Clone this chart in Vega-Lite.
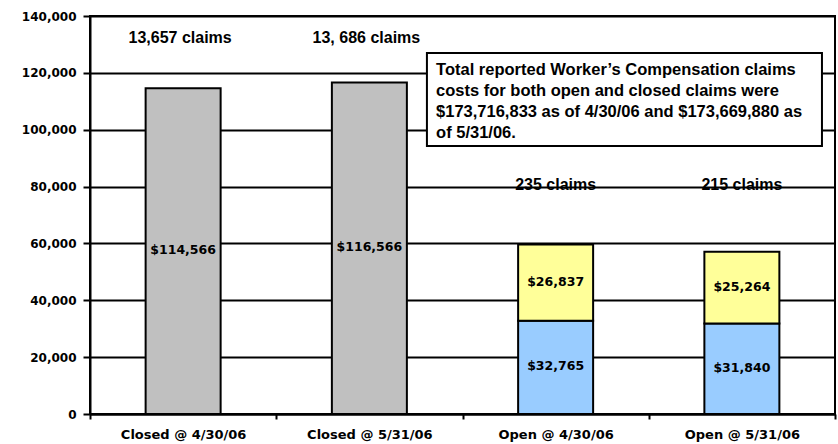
{
  "$schema": "https://vega.github.io/schema/vega-lite/v6.json",
  "width": 745,
  "height": 398,
  "autosize": {"type": "none"},
  "padding": {"left": 90, "top": 16, "right": 3, "bottom": 30},
  "background": "white",
  "config": {
    "view": {"stroke": "black", "strokeWidth": 2},
    "axis": {
      "domainColor": "black",
      "domainWidth": 2,
      "tickColor": "black",
      "tickWidth": 2,
      "labelColor": "black",
      "labelFont": "DejaVu Sans",
      "labelFontWeight": "bold",
      "title": null
    }
  },
  "datasets": {
    "costs": [
      {"category": "Closed @ 4/30/06", "part": "Closed", "value": 114566},
      {"category": "Closed @ 5/31/06", "part": "Closed", "value": 116566},
      {"category": "Open @ 4/30/06", "part": "Paid", "value": 32765},
      {"category": "Open @ 4/30/06", "part": "Reserve", "value": 26837},
      {"category": "Open @ 5/31/06", "part": "Paid", "value": 31840},
      {"category": "Open @ 5/31/06", "part": "Reserve", "value": 25264}
    ],
    "claims": [
      {"category": "Closed @ 4/30/06", "group": "Closed", "claims": "13,657 claims"},
      {"category": "Closed @ 5/31/06", "group": "Closed", "claims": "13, 686 claims"},
      {"category": "Open @ 4/30/06", "group": "Open", "claims": "235 claims"},
      {"category": "Open @ 5/31/06", "group": "Open", "claims": "215 claims"}
    ],
    "note": [
      {"text": [
        "Total reported Worker’s Compensation claims",
        "costs for both open and closed claims were",
        "$173,716,833 as of 4/30/06 and $173,669,880 as",
        "of 5/31/06."
      ]}
    ]
  },
  "layer": [
    {
      "layer": [
        {
          "data": {"name": "costs"},
          "transform": [
            {"stack": "value", "groupby": ["category"], "sort": [{"field": "part"}], "as": ["v0", "v1"]}
          ],
          "mark": {"type": "bar", "size": 75, "stroke": "black", "strokeWidth": 2},
          "encoding": {
            "x": {
              "field": "category",
              "type": "nominal",
              "sort": null,
              "scale": {"type": "band", "paddingInner": 0, "paddingOuter": 0},
              "axis": {
                "labelAngle": 0,
                "labelFontSize": 13,
                "labelPadding": 9,
                "tickSize": 5,
                "tickBand": "extent",
                "grid": false
              }
            },
            "y": {
              "field": "v1",
              "type": "quantitative",
              "scale": {"domain": [0, 140000], "nice": false},
              "axis": {
                "values": [0, 20000, 40000, 60000, 80000, 100000, 120000, 140000],
                "format": ",.0f",
                "grid": true,
                "gridColor": "black",
                "gridWidth": 2,
                "gridOpacity": 1,
                "tickSize": 7,
                "labelFontSize": 12,
                "labelPadding": 7
              }
            },
            "y2": {"field": "v0"},
            "color": {
              "field": "part",
              "type": "nominal",
              "scale": {"domain": ["Closed", "Paid", "Reserve"], "range": ["#C0C0C0", "#99CCFF", "#FFFF99"]},
              "legend": null
            }
          }
        },
        {
          "data": {"name": "costs"},
          "transform": [
            {"stack": "value", "groupby": ["category"], "sort": [{"field": "part"}], "as": ["v0", "v1"]},
            {"calculate": "(datum.v0 + datum.v1) / 2", "as": "mid"}
          ],
          "mark": {"type": "text", "font": "DejaVu Sans", "fontWeight": "bold", "fontSize": 12.5, "color": "black", "baseline": "middle", "dy": -1},
          "encoding": {
            "x": {"field": "category", "type": "nominal", "sort": null},
            "y": {"field": "mid", "type": "quantitative"},
            "text": {"field": "value", "type": "quantitative", "format": "$,.0f"}
          }
        },
        {
          "data": {"name": "claims"},
          "transform": [{"filter": "datum.group === 'Closed'"}],
          "mark": {"type": "text", "font": "Liberation Sans", "fontWeight": "bold", "fontSize": 16, "color": "black", "baseline": "middle", "dx": -3},
          "encoding": {
            "x": {"field": "category", "type": "nominal", "sort": null},
            "y": {"datum": 132200, "type": "quantitative"},
            "text": {"field": "claims"}
          }
        },
        {
          "data": {"name": "claims"},
          "transform": [{"filter": "datum.group === 'Open'"}],
          "mark": {"type": "text", "font": "Liberation Sans", "fontWeight": "bold", "fontSize": 16, "color": "black", "baseline": "middle"},
          "encoding": {
            "x": {"field": "category", "type": "nominal", "sort": null},
            "y": {"datum": 80400, "type": "quantitative"},
            "text": {"field": "claims"}
          }
        }
      ]
    },
    {
      "data": {"name": "note"},
      "layer": [
        {
          "mark": {"type": "rect", "fill": "white", "stroke": "black", "strokeWidth": 2},
          "encoding": {
            "x": {"datum": 1.809, "type": "quantitative", "scale": {"domain": [0, 4], "nice": false}, "axis": null},
            "x2": {"datum": 3.93},
            "y": {"datum": 126985, "type": "quantitative"},
            "y2": {"datum": 94271}
          }
        },
        {
          "mark": {"type": "text", "align": "left", "baseline": "top", "font": "Liberation Sans", "fontWeight": "bold", "fontSize": 16.5, "lineHeight": 21, "color": "black"},
          "encoding": {
            "x": {"datum": 1.858, "type": "quantitative"},
            "y": {"datum": 123650, "type": "quantitative"},
            "text": {"field": "text"}
          }
        }
      ]
    }
  ],
  "resolve": {"scale": {"x": "independent"}}
}
